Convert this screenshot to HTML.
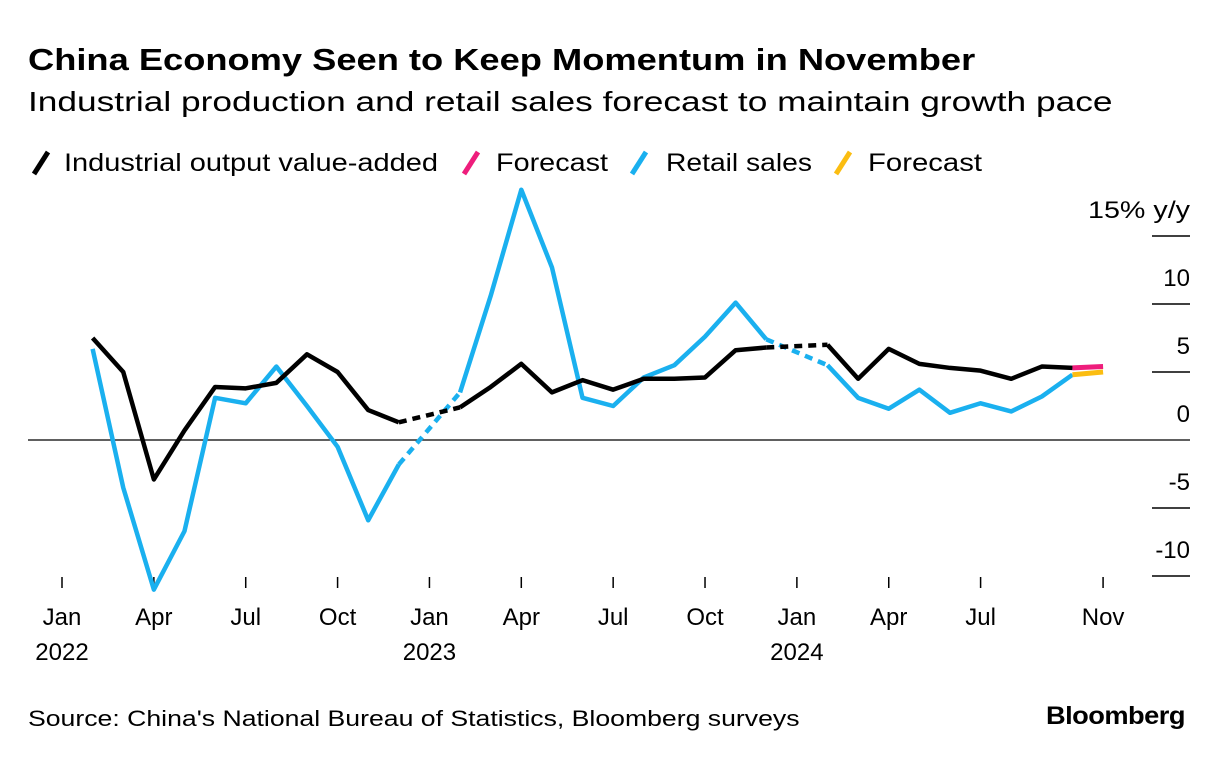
<!DOCTYPE html>
<html><head><meta charset="utf-8">
<style>
body{margin:0;background:#fff;font-family:"Liberation Sans",sans-serif;color:#000}
#wrap{position:relative;width:1224px;height:776px;overflow:hidden}
.t{position:absolute;white-space:nowrap;transform-origin:0 0}
</style></head><body>
<div id="wrap">
<div class="t" style="left:28px;top:42px;font-size:31px;font-weight:bold;transform:scaleX(1.17)">China Economy Seen to Keep Momentum in November</div>
<div class="t" style="left:28px;top:86px;font-size:28px;transform:scaleX(1.26)">Industrial production and retail sales forecast to maintain growth pace</div>
<svg id="chart" width="1224" height="776" style="position:absolute;left:0;top:0"></svg>
<div class="t" style="left:28px;top:706px;font-size:22px;transform:scaleX(1.21)">Source: China's National Bureau of Statistics, Bloomberg surveys</div>
<div class="t" style="left:1046px;top:702px;font-size:25px;font-weight:bold;letter-spacing:-0.5px;transform:scaleX(1.09)">Bloomberg</div>
</div>
<script>
const industrial = [null,7.5,5.0,-2.9,0.7,3.9,3.8,4.2,6.3,5.0,2.2,1.3,
 null,2.4,3.9,5.6,3.5,4.4,3.7,4.5,4.5,4.6,6.6,6.8,
 null,7.0,4.5,6.7,5.6,5.3,5.1,4.5,5.4,5.3];
const industrialForecast = 5.4;
const retail = [null,6.7,-3.5,-11.0,-6.7,3.1,2.7,5.4,2.5,-0.5,-5.9,-1.8,
 null,3.5,10.6,18.4,12.7,3.1,2.5,4.6,5.5,7.6,10.1,7.4,
 null,5.5,3.1,2.3,3.7,2.0,2.7,2.1,3.2,4.8];
const retailForecast = 5.0;
const yTicks = [15,10,5,0,-5,-10];
const yTickLabels = ["15% y/y","10","5","0","-5","-10"];
const xTickMonths = [0,3,6,9,12,15,18,21,24,27,30,34];
const xTickLabels = ["Jan","Apr","Jul","Oct","Jan","Apr","Jul","Oct","Jan","Apr","Jul","Nov"];
const xYearLabels = {0:"2022",12:"2023",24:"2024"};
const legendItems = [["Industrial output value-added","#000"],["Forecast","#ee1d7c"],["Retail sales","#1ab0ef"],["Forecast","#fbbd11"]];
const legendLayout = [[30,64,374],[460,496,112],[628,666,146],[832,868,114]];

const svg=document.getElementById('chart');
const NS='http://www.w3.org/2000/svg';
const x=m=>62+m*30.62;
const y=v=>440-v*13.6;
function mk(tag,attrs){const e=document.createElementNS(NS,tag);for(const k in attrs)e.setAttribute(k,attrs[k]);svg.appendChild(e);return e;}

legendItems.forEach((it,i)=>{
 const L=legendLayout[i];
 const l=mk('line',{x1:L[0]+4,y1:174,x2:L[0]+18,y2:152,stroke:it[1],'stroke-width':5});
 
 
 const t=mk('text',{x:L[1],y:171,'font-size':25,fill:'#000',textLength:L[2],lengthAdjust:'spacingAndGlyphs'});
 t.textContent=it[0];
 
 
});

yTicks.forEach((v,i)=>{
 if(v!==0){const l=mk('line',{x1:1152,x2:1190,y1:y(v),y2:y(v),stroke:'#000','stroke-width':1.5});
 
 }
 const attrs={x:1190,y:y(v)-18,'font-size':24,'text-anchor':'end',fill:'#000'};
 if(i===0){attrs.textLength=102;attrs.lengthAdjust='spacingAndGlyphs';}
 const t=mk('text',attrs);
 t.textContent=yTickLabels[i];
 
 
});
const z=mk('line',{x1:28,x2:1190,y1:y(0),y2:y(0),stroke:'#000','stroke-width':1.2});



xTickMonths.forEach((m,i)=>{
 const l=mk('line',{x1:x(m),x2:x(m),y1:577,y2:588,stroke:'#000','stroke-width':1.5});
 
 
 const t=mk('text',{x:x(m),y:625,'font-size':24,'text-anchor':'middle',fill:'#000'});
 t.textContent=xTickLabels[i];
 
 
 if(xYearLabels[m]){const yy=mk('text',{x:x(m),y:660,'font-size':24,'text-anchor':'middle',fill:'#000'});
 yy.textContent=xYearLabels[m];
 
 }
});

function drawSeries(data,color,name,fc,fcColor){
 let seg=[];const segs=[];
 data.forEach((v,m)=>{if(v===null){if(seg.length)segs.push(seg);seg=[];}else seg.push([m,v]);});
 if(seg.length)segs.push(seg);
 for(let i=0;i<segs.length-1;i++){
  const a=segs[i][segs[i].length-1],b=segs[i+1][0];
  const d=mk('line',{x1:x(a[0]),y1:y(a[1]),x2:x(b[0]),y2:y(b[1]),stroke:color,'stroke-width':4.5,'stroke-dasharray':'8 6'});
  
  
 }
 segs.forEach(s=>{
  const p=mk('polyline',{points:s.map(q=>x(q[0])+','+y(q[1])).join(' '),fill:'none',stroke:color,'stroke-width':4.5,'stroke-linejoin':'round'});
  
  
 });
 const last=data.length-1;
 const f=mk('line',{x1:x(last),y1:y(data[last]),x2:x(last+1),y2:y(fc),stroke:fcColor,'stroke-width':5});
 
 
}
drawSeries(retail,'#1ab0ef','retail-sales',retailForecast,'#fbbd11');
drawSeries(industrial,'#000','industrial-output',industrialForecast,'#ee1d7c');
</script>
</body></html>
